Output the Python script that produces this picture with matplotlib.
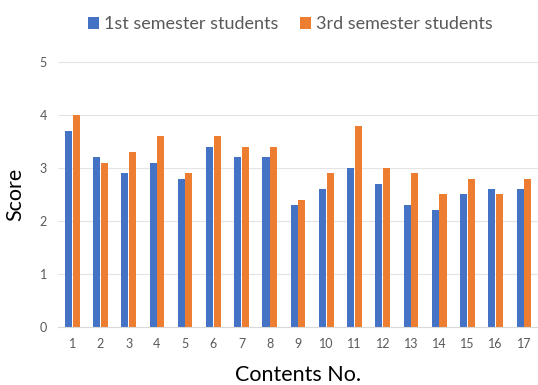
import numpy as np
import matplotlib
matplotlib.use("Agg")
import matplotlib.pyplot as plt

contents = [str(i) for i in range(1, 18)]
first_sem = [3.7, 3.2, 2.9, 3.1, 2.8, 3.4, 3.2, 3.2, 2.3, 2.6, 3.0, 2.7, 2.3, 2.2, 2.5, 2.6, 2.6]
third_sem = [4.0, 3.1, 3.3, 3.6, 2.9, 3.6, 3.4, 3.4, 2.4, 2.9, 3.8, 3.0, 2.9, 2.5, 2.8, 2.5, 2.8]
yticks = [0, 1, 2, 3, 4, 5]

plt.rcParams["font.family"] = ["Lato", "DejaVu Sans"]

fig = plt.figure(figsize=(5.38, 3.85), dpi=100)
ax = fig.add_axes([0.108, 0.151, 0.892, 0.688])

x = np.arange(len(contents))
w = 0.25
ax.bar(x - w / 2 - 0.01, first_sem, width=w, color="#4472C4", label="1st semester students")
ax.bar(x + w / 2 + 0.01, third_sem, width=w, color="#ED7D31", label="3rd semester students")

ax.set_xlim(-0.5, len(contents) - 0.5)
ax.set_ylim(0, 5)
ax.set_yticks(yticks)
ax.set_xticks(x)
ax.set_xticklabels(contents)
ax.tick_params(axis="both", length=0, labelsize=9, colors="#595959", pad=8)
ax.grid(axis="y", color="#e4e4e4", linewidth=0.8)
ax.set_axisbelow(True)
for side in ["top", "right", "left"]:
    ax.spines[side].set_visible(False)
ax.spines["bottom"].set_color("#d9d9d9")

ax.set_xlabel("Contents No.", fontsize=15.5, labelpad=11)
ax.set_ylabel("Score", fontsize=15.5, labelpad=10)

fig.legend(loc="upper center", bbox_to_anchor=(0.54, 1.0), ncol=2, frameon=False,
           fontsize=13, handlelength=0.6, handleheight=0.6, columnspacing=1.2,
           handletextpad=0.3, labelcolor="#595959")

fig.savefig("out.png", dpi=100)
